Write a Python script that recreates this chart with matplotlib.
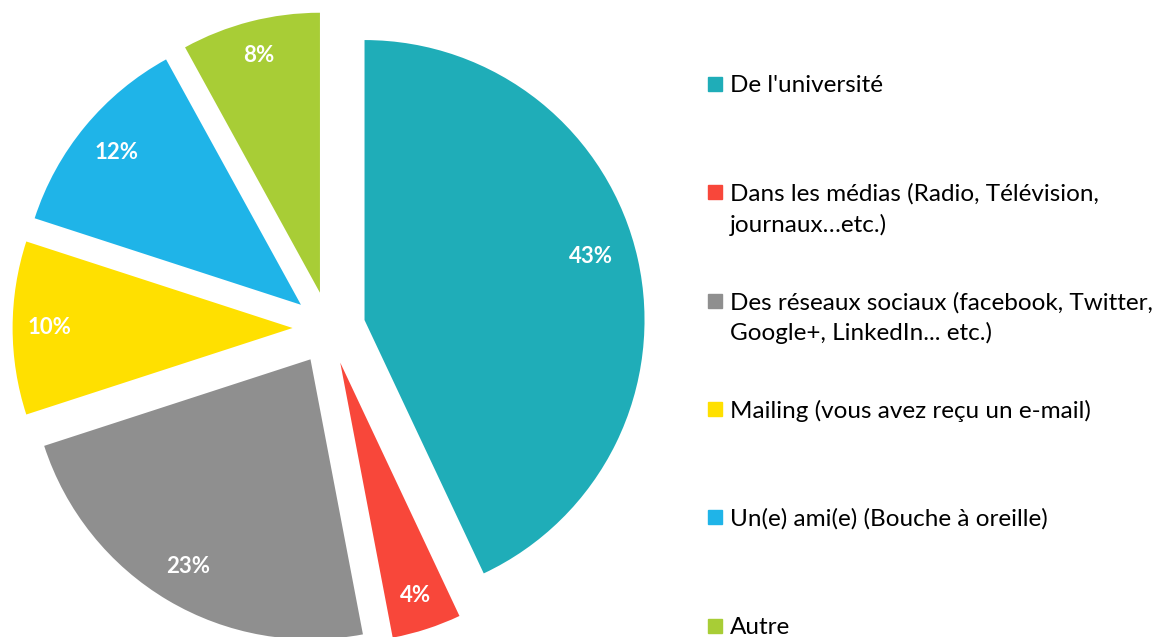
import matplotlib
matplotlib.use("Agg")
import numpy as np
from matplotlib import pyplot as plt
from matplotlib.patches import Rectangle

categories = [
   "De l'université",
   "Dans les médias (Radio, Télévision,\njournaux…etc.)",
   "Des réseaux sociaux (facebook, Twitter,\nGoogle+, LinkedIn... etc.)",
   "Mailing (vous avez reçu un e-mail)",
   "Un(e) ami(e) (Bouche à oreille)",
   "Autre",
]
values = [43, 4, 23, 10, 12, 8]
colors = ["#1FADB8", "#F8473A", "#8F8F8F", "#FFE000", "#1FB4E8", "#A8CD36"]
label_dist = [0.84, 0.875, 0.86, 0.87, 0.855, 0.875]
label_nudge = [3, 0, 0, 0, 0, 0]   # degrees

W, H = 1165, 637
cx, cy, R = 329, 328, 280   # pie centre / radius in pixels

fig = plt.figure(figsize=(W / 100, H / 100), dpi=100)
ax = fig.add_axes([0, 0, 1, 1])

wedges, _ = ax.pie(values, colors=colors, startangle=90, counterclock=False,
                   explode=[0.13] * len(values), radius=1,
                   wedgeprops=dict(linewidth=0))

ax.set_aspect("auto")
ax.set_xlim(-cx / R, (W - cx) / R)
ax.set_ylim(-(H - cy) / R, cy / R)
ax.axis("off")

for w, v, d, n in zip(wedges, values, label_dist, label_nudge):
   ang = np.deg2rad((w.theta1 + w.theta2) / 2 + n)
   x = w.center[0] + d * w.r * np.cos(ang)
   y = w.center[1] + d * w.r * np.sin(ang)
   ax.text(x, y, f"{v}%", color="white", fontsize=16, fontweight="bold",
           family="Lato", ha="center", va="center")

# legend drawn by hand so the square sits on the first line
for i, (cat, col) in enumerate(zip(categories, colors)):
   py = 84 + i * 108.3
   fig.patches.append(Rectangle((708 / W, 1 - (py + 7) / H), 14 / W, 14 / H,
                                transform=fig.transFigure, color=col))
   fig.text(730 / W, 1 - (py - 9) / H, cat, fontsize=17.5, family="Lato",
            ha="left", va="top", linespacing=1.5)

fig.savefig("out.png", dpi=100)
